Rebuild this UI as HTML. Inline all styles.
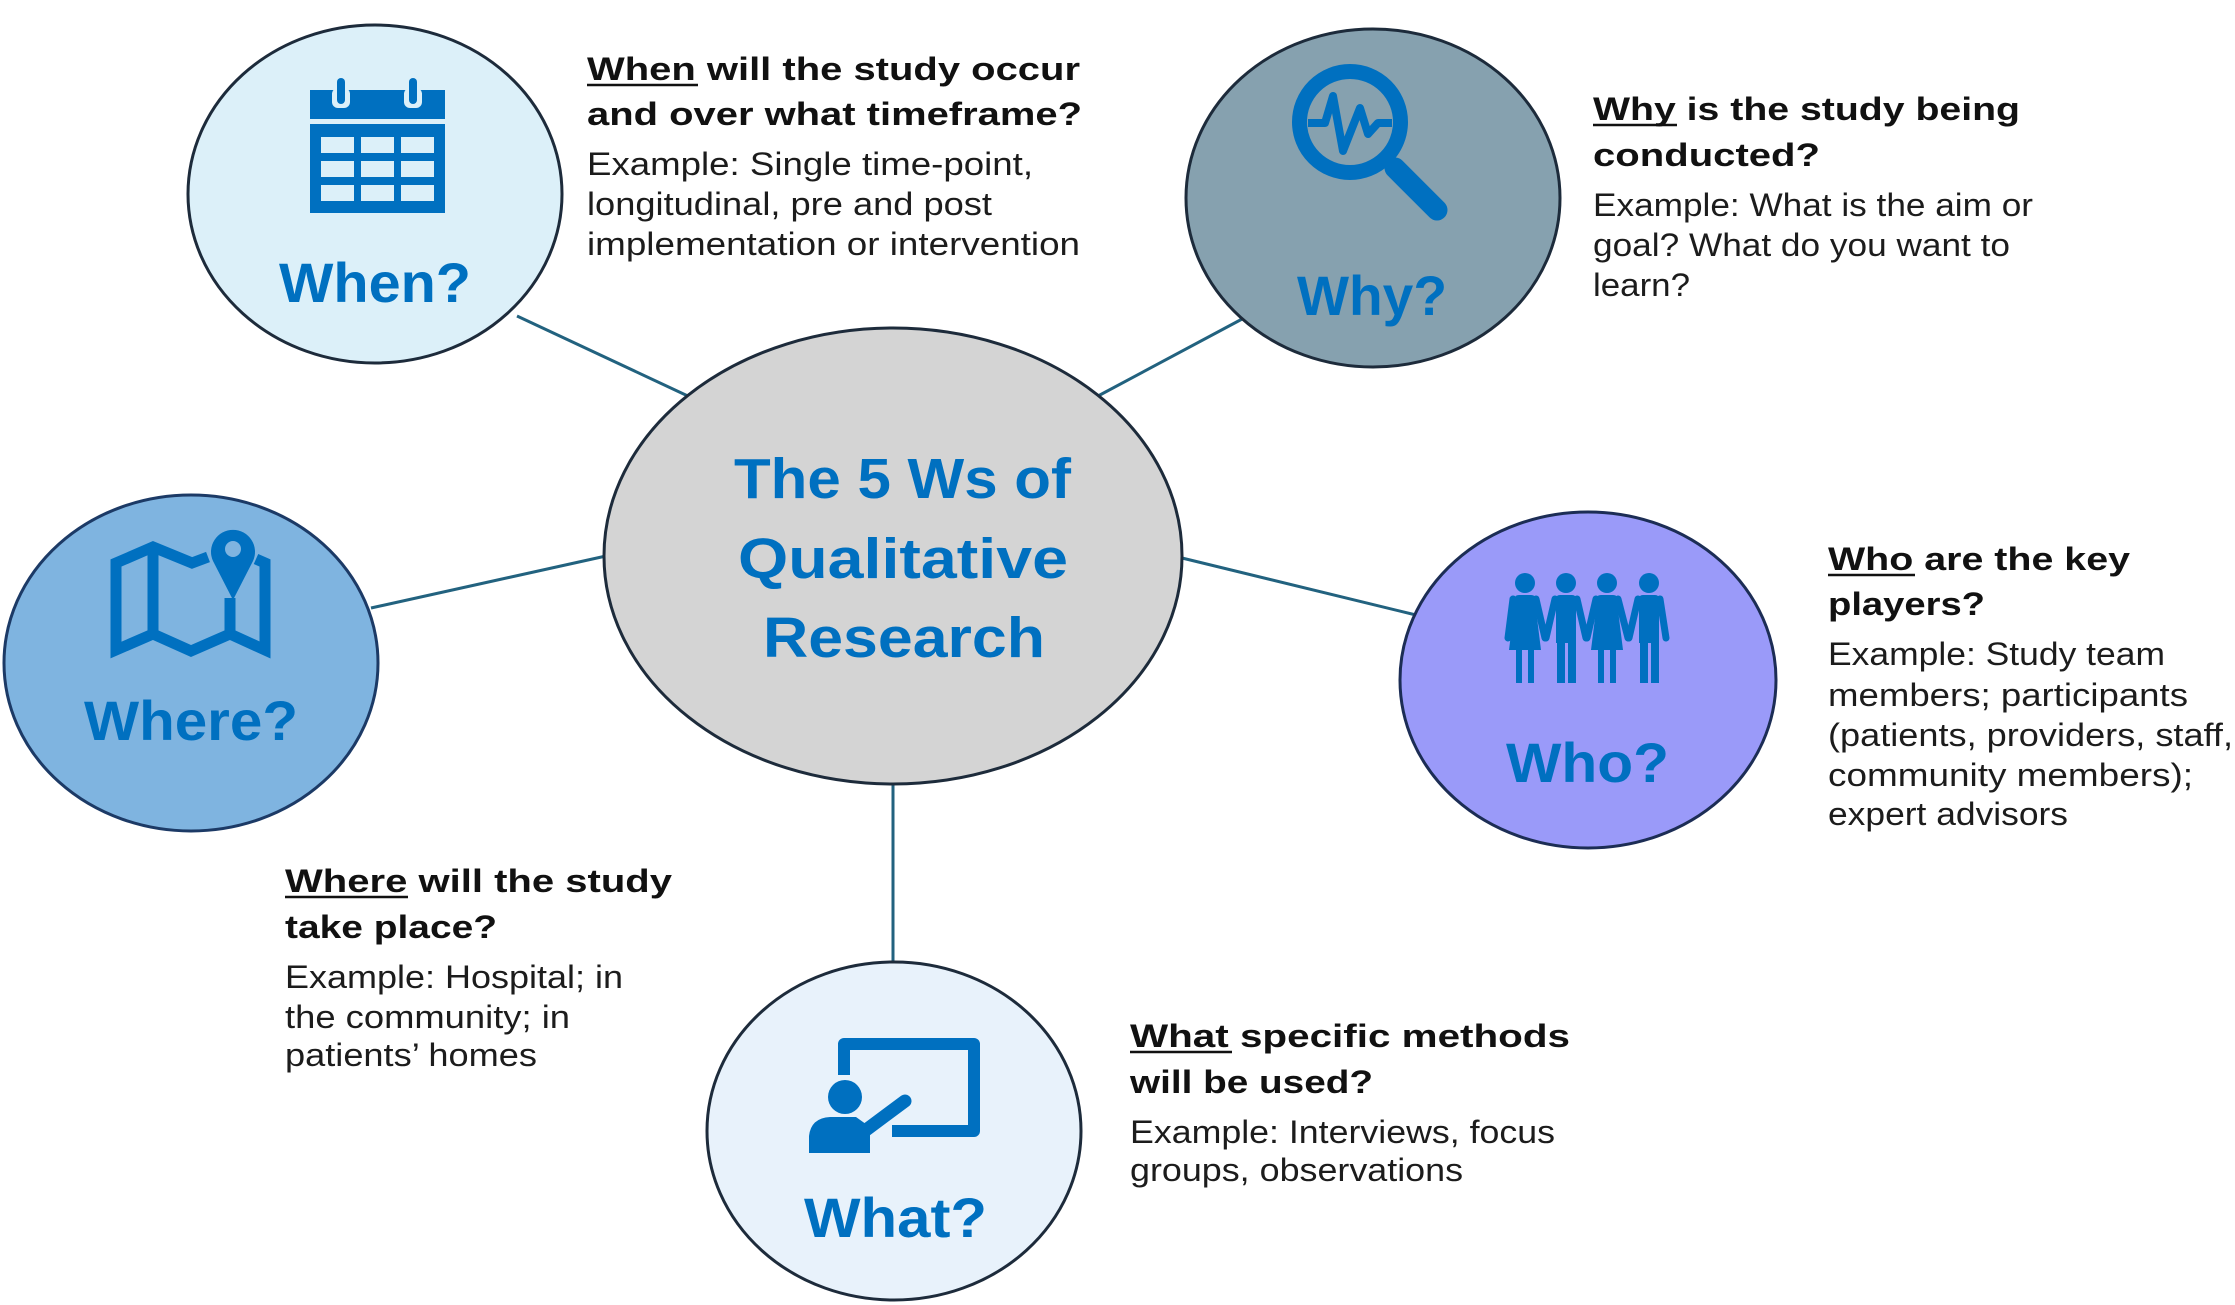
<!DOCTYPE html>
<html><head><meta charset="utf-8"><style>
html,body{margin:0;padding:0;background:#fff;}
svg{display:block;}
text{font-family:"Liberation Sans",Arial,sans-serif;}
.h{font-weight:bold;font-size:32px;fill:#111;}
.b{font-size:32px;fill:#1c1c1c;}
.lbl{font-weight:bold;font-size:56px;fill:#0070c0;}
.ttl{font-weight:bold;font-size:57px;fill:#0070c0;}
</style></head><body>
<svg width="2235" height="1305" viewBox="0 0 2235 1305" xmlns="http://www.w3.org/2000/svg">
<rect width="2235" height="1305" fill="#fff"/>
<!-- connectors -->
<g stroke="#22627f" stroke-width="3" fill="none">
<line x1="517" y1="316" x2="690" y2="397"/>
<line x1="1244" y1="318" x2="1098" y2="396"/>
<line x1="371" y1="608" x2="606" y2="556"/>
<line x1="1182" y1="558" x2="1416" y2="615"/>
<line x1="893" y1="782" x2="893" y2="964"/>
</g>
<!-- circles -->
<g stroke="#1d2b3b" stroke-width="3">
<ellipse cx="375" cy="194" rx="187" ry="169" fill="#dcf0f9"/>
<ellipse cx="1373" cy="198" rx="187" ry="169" fill="#86a1af"/>
<ellipse cx="893" cy="556" rx="289" ry="228" fill="#d4d4d4"/>
<ellipse cx="191" cy="663" rx="187" ry="168" fill="#7fb4e0" stroke="#1c3a66"/>
<ellipse cx="1588" cy="680" rx="188" ry="168" fill="#9a9af9" stroke="#1c2d55"/>
<ellipse cx="894" cy="1131" rx="187" ry="169" fill="#e8f2fb"/>
</g>

<!-- calendar icon -->
<g fill="#0070c0">
<rect x="310" y="90" width="135" height="29"/>
<rect x="310" y="124" width="135" height="89"/>
</g>
<g fill="#dcf0f9">
<rect x="321" y="137" width="33" height="16"/><rect x="361" y="137" width="33" height="16"/><rect x="401" y="137" width="33" height="16"/>
<rect x="321" y="161" width="33" height="16"/><rect x="361" y="161" width="33" height="16"/><rect x="401" y="161" width="33" height="16"/>
<rect x="321" y="185" width="33" height="16"/><rect x="361" y="185" width="33" height="16"/><rect x="401" y="185" width="33" height="16"/>
<rect x="332" y="88" width="18" height="20" rx="6"/>
<rect x="404" y="88" width="18" height="20" rx="6"/>
</g>
<g fill="#0070c0">
<rect x="337" y="78" width="8" height="26" rx="4"/>
<rect x="409" y="78" width="8" height="26" rx="4"/>
</g>

<!-- magnifier icon -->
<g fill="none" stroke="#0070c0">
<circle cx="1350" cy="122" r="50.5" stroke-width="15"/>
<line x1="1385" y1="158" x2="1400" y2="173" stroke-width="13"/>
<line x1="1395" y1="168" x2="1437" y2="210" stroke-width="21" stroke-linecap="round"/>
<polyline points="1308,123 1325,123 1333,96 1343,151 1360,108 1368,134 1378,123 1392,123" stroke-width="8" stroke-linejoin="round"/>
</g>

<!-- map icon -->
<g fill="none" stroke="#0070c0" stroke-width="11" stroke-linejoin="miter">
<path d="M208,557 L192,563 L153,547 L116,563 L116,650 L153,634 L191,651 L230,634 L265,650 L265,563 L256,559"/>
<line x1="153" y1="547" x2="153" y2="634"/>
<line x1="230" y1="598" x2="230" y2="634"/>
</g>
<path d="M233,600 L213,561 A22,22 0 1 1 253,561 Z" fill="#0070c0"/>
<circle cx="233" cy="549" r="8" fill="#7fb4e0"/>

<!-- people icon -->
<g fill="#0070c0">
<circle cx="1525" cy="583" r="10"/><circle cx="1566" cy="583" r="10"/><circle cx="1607" cy="583" r="10"/><circle cx="1649" cy="583" r="10"/>
<!-- figure 1 woman -->
<path d="M1515,598 Q1515,595 1519,595 L1531,595 Q1535,595 1535,598 L1537,618 L1541,650 L1509,650 L1513,618 Z"/>
<rect x="1516" y="650" width="6" height="33"/><rect x="1528" y="650" width="6" height="33"/>
<!-- figure 2 man -->
<path d="M1556,599 Q1556,595 1560,595 L1572,595 Q1576,595 1576,599 L1576,643 L1556,643 Z"/>
<rect x="1557" y="643" width="8" height="40"/><rect x="1568" y="643" width="8" height="40"/>
<!-- figure 3 woman -->
<path d="M1597,598 Q1597,595 1601,595 L1613,595 Q1617,595 1617,598 L1619,618 L1623,650 L1591,650 L1595,618 Z"/>
<rect x="1598" y="650" width="6" height="33"/><rect x="1610" y="650" width="6" height="33"/>
<!-- figure 4 man -->
<path d="M1639,599 Q1639,595 1643,595 L1655,595 Q1659,595 1659,599 L1659,643 L1639,643 Z"/>
<rect x="1640" y="643" width="8" height="40"/><rect x="1651" y="643" width="8" height="40"/>
</g>
<g stroke="#0070c0" stroke-width="7" stroke-linecap="round" fill="none">
<line x1="1513" y1="599" x2="1508" y2="638"/>
<line x1="1536" y1="599" x2="1545" y2="638"/>
<line x1="1555" y1="599" x2="1546" y2="638"/>
<line x1="1577" y1="599" x2="1586" y2="638"/>
<line x1="1596" y1="599" x2="1587" y2="638"/>
<line x1="1618" y1="599" x2="1628" y2="638"/>
<line x1="1638" y1="599" x2="1629" y2="638"/>
<line x1="1660" y1="599" x2="1666" y2="638"/>
</g>

<!-- presentation icon -->
<g fill="none" stroke="#0070c0" stroke-width="12" stroke-linejoin="round">
<path d="M844,1075 L844,1044 L974,1044 L974,1131 L892,1131"/>
</g>
<g fill="#0070c0">
<circle cx="845" cy="1097" r="17"/>
<path d="M809,1153 L809,1136 Q811,1118 830,1117 L856,1117 L870,1127 L870,1153 Z"/>
</g>
<line x1="862" y1="1133" x2="905" y2="1101" stroke="#0070c0" stroke-width="13" stroke-linecap="round"/>

<!-- circle labels -->
<text class="lbl" x="279" y="302" textLength="192" lengthAdjust="spacingAndGlyphs">When?</text>
<text class="lbl" x="1297" y="315" textLength="150" lengthAdjust="spacingAndGlyphs">Why?</text>
<text class="lbl" x="84" y="740" textLength="214" lengthAdjust="spacingAndGlyphs">Where?</text>
<text class="lbl" x="1506" y="782" textLength="163" lengthAdjust="spacingAndGlyphs">Who?</text>
<text class="lbl" x="804" y="1237" textLength="183" lengthAdjust="spacingAndGlyphs">What?</text>

<!-- center title -->
<text class="ttl" x="734" y="498" textLength="337" lengthAdjust="spacingAndGlyphs">The 5 Ws of</text>
<text class="ttl" x="738" y="578" textLength="330" lengthAdjust="spacingAndGlyphs">Qualitative</text>
<text class="ttl" x="763" y="657" textLength="282" lengthAdjust="spacingAndGlyphs">Research</text>

<!-- When text -->
<text class="h" x="587" y="80" textLength="493" lengthAdjust="spacingAndGlyphs">When will the study occur</text>
<line x1="587" y1="85" x2="698" y2="85" stroke="#111" stroke-width="2.5"/>
<text class="h" x="587" y="125" textLength="495" lengthAdjust="spacingAndGlyphs">and over what timeframe?</text>
<text class="b" x="587" y="175" textLength="446" lengthAdjust="spacingAndGlyphs">Example:  Single time-point,</text>
<text class="b" x="587" y="215" textLength="405" lengthAdjust="spacingAndGlyphs">longitudinal, pre and post</text>
<text class="b" x="587" y="255" textLength="493" lengthAdjust="spacingAndGlyphs">implementation or intervention</text>

<!-- Why text -->
<text class="h" x="1593" y="120" textLength="427" lengthAdjust="spacingAndGlyphs">Why is the study being</text>
<line x1="1593" y1="125" x2="1677" y2="125" stroke="#111" stroke-width="2.5"/>
<text class="h" x="1593" y="166" textLength="227" lengthAdjust="spacingAndGlyphs">conducted?</text>
<text class="b" x="1593" y="216" textLength="440" lengthAdjust="spacingAndGlyphs">Example: What is the aim or</text>
<text class="b" x="1593" y="256" textLength="417" lengthAdjust="spacingAndGlyphs">goal? What do you want to</text>
<text class="b" x="1593" y="296" textLength="97" lengthAdjust="spacingAndGlyphs">learn?</text>

<!-- Who text -->
<text class="h" x="1828" y="570" textLength="302" lengthAdjust="spacingAndGlyphs">Who are the key</text>
<line x1="1828" y1="575" x2="1915" y2="575" stroke="#111" stroke-width="2.5"/>
<text class="h" x="1828" y="615" textLength="157" lengthAdjust="spacingAndGlyphs">players?</text>
<text class="b" x="1828" y="665" textLength="337" lengthAdjust="spacingAndGlyphs">Example: Study team</text>
<text class="b" x="1828" y="706" textLength="360" lengthAdjust="spacingAndGlyphs">members; participants</text>
<text class="b" x="1828" y="746" textLength="405" lengthAdjust="spacingAndGlyphs">(patients, providers, staff,</text>
<text class="b" x="1828" y="786" textLength="365" lengthAdjust="spacingAndGlyphs">community members);</text>
<text class="b" x="1828" y="825" textLength="240" lengthAdjust="spacingAndGlyphs">expert advisors</text>

<!-- Where text -->
<text class="h" x="285" y="892" textLength="387" lengthAdjust="spacingAndGlyphs">Where will the study</text>
<line x1="285" y1="897" x2="408" y2="897" stroke="#111" stroke-width="2.5"/>
<text class="h" x="285" y="938" textLength="212" lengthAdjust="spacingAndGlyphs">take place?</text>
<text class="b" x="285" y="988" textLength="338" lengthAdjust="spacingAndGlyphs">Example: Hospital; in</text>
<text class="b" x="285" y="1028" textLength="285" lengthAdjust="spacingAndGlyphs">the community; in</text>
<text class="b" x="285" y="1066" textLength="252" lengthAdjust="spacingAndGlyphs">patients’ homes</text>

<!-- What text -->
<text class="h" x="1130" y="1047" textLength="440" lengthAdjust="spacingAndGlyphs">What specific methods</text>
<line x1="1130" y1="1052" x2="1232" y2="1052" stroke="#111" stroke-width="2.5"/>
<text class="h" x="1130" y="1093" textLength="243" lengthAdjust="spacingAndGlyphs">will be used?</text>
<text class="b" x="1130" y="1143" textLength="425" lengthAdjust="spacingAndGlyphs">Example: Interviews, focus</text>
<text class="b" x="1130" y="1181" textLength="333" lengthAdjust="spacingAndGlyphs">groups, observations</text>
</svg>
</body></html>
